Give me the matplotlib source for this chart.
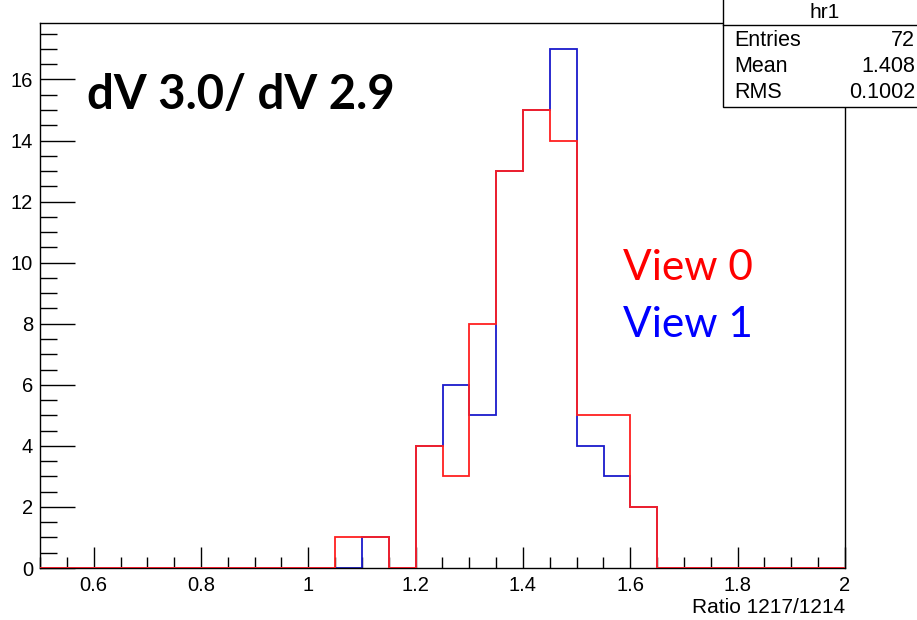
import matplotlib.pyplot as plt
import numpy as np
from matplotlib.lines import Line2D
from matplotlib.patches import Rectangle
from matplotlib.ticker import MultipleLocator

# 30 bins of width 0.05 between 0.5 and 2.0
bin_lo, bin_hi, bin_w = 0.5, 2.0, 0.05
bin_edges = np.arange(bin_lo, bin_hi + bin_w / 2, bin_w)

# non-empty bins (lower edge -> count)
view0_lo = [1.05, 1.10, 1.20, 1.25, 1.30, 1.35, 1.40, 1.45, 1.50, 1.55, 1.60]
view0_n = [1, 1, 4, 3, 8, 13, 15, 14, 5, 5, 2]
view1_lo = [1.10, 1.20, 1.25, 1.30, 1.35, 1.40, 1.45, 1.50, 1.55, 1.60]
view1_n = [1, 4, 6, 5, 13, 15, 17, 4, 3, 2]

stat_names = ["Entries", "Mean", "RMS"]
stat_values = ["72", "1.408", "0.1002"]


def fill_bins(lows, counts):
    h = np.zeros(len(bin_edges) - 1)
    for lo, n in zip(lows, counts):
        h[int(round((lo - bin_lo) / bin_w))] = n
    return h


h0 = fill_bins(view0_lo, view0_n)
h1 = fill_bins(view1_lo, view1_n)

W, H = 917, 620
fig = plt.figure(figsize=(W / 100, H / 100), dpi=100)
ax = fig.add_axes([40 / W, 52 / H, (845 - 40) / W, (568 - 23) / H])

ax.stairs(h1, bin_edges, color="#1a1acc", lw=1.3, zorder=2)
ax.stairs(h0, bin_edges, color="#ff2020", lw=1.3, zorder=3)

ax.set_xlim(bin_lo, bin_hi)
ax.set_ylim(0, 1.05 * max(h0.max(), h1.max()))

tick_family, tick_size = "Liberation Sans", 14.5
ax.xaxis.set_major_locator(MultipleLocator(0.2))
ax.xaxis.set_minor_locator(MultipleLocator(0.05))
ax.yaxis.set_major_locator(MultipleLocator(2))
ax.yaxis.set_minor_locator(MultipleLocator(0.5))
ax.tick_params(axis="x", which="major", direction="in", length=15, width=1,
               pad=6, top=False)
ax.tick_params(axis="x", which="minor", direction="in", length=8, width=1,
               top=False)
ax.tick_params(axis="y", which="major", direction="in", length=25, width=1,
               pad=5, right=False)
ax.tick_params(axis="y", which="minor", direction="in", length=12, width=1,
               right=False)
ax.set_xticks(np.arange(0.6, 2.01, 0.2))
ax.set_xticklabels(["0.6", "0.8", "1", "1.2", "1.4", "1.6", "1.8", "2"])
for lab in ax.get_xticklabels() + ax.get_yticklabels():
    lab.set_fontfamily(tick_family)
    lab.set_fontsize(tick_size)
for sp in ax.spines.values():
    sp.set_linewidth(1)

ax.set_xlabel("Ratio 1217/1214", fontfamily="Liberation Sans", fontsize=15,
              loc="right", labelpad=2)

fig.text(87 / W, 1 - 95 / H, "dV 3.0/ dV 2.9", fontfamily="Lato",
         fontweight="bold", fontsize=34, va="center")
fig.text(623 / W, 1 - 268 / H, "View 0", color="#ff0000", fontfamily="Lato",
         fontsize=30.5, va="center")
fig.text(623 / W, 1 - 325 / H, "View 1", color="#0000ff", fontfamily="Lato",
         fontsize=30.5, va="center")

# statistics box in the top right corner
bx0, by0 = 723 / W, 1 - 107 / H
fig.add_artist(Rectangle((bx0, by0), 1.0 - bx0 + 0.01, 1.0 - by0 + 0.01,
                         transform=fig.transFigure, facecolor="white",
                         edgecolor="black", lw=1, zorder=5, clip_on=False))
fig.add_artist(Line2D([bx0, 1.0], [1 - 25 / H, 1 - 25 / H],
                      transform=fig.transFigure, color="black", lw=1, zorder=6))
fig.text(825 / W, 1 - 12 / H, "hr1", ha="center", va="center",
         fontfamily="Liberation Sans", fontsize=15, zorder=7)
for i, (name, val) in enumerate(zip(stat_names, stat_values)):
    y = 1 - (41 + 25.5 * i) / H
    fig.text(734 / W, y, name, ha="left", va="center",
             fontfamily="Liberation Sans", fontsize=15.5, zorder=7)
    fig.text(915 / W, y, val, ha="right", va="center",
             fontfamily="Liberation Sans", fontsize=15.5, zorder=7)

fig.savefig("out.png", dpi=100)
